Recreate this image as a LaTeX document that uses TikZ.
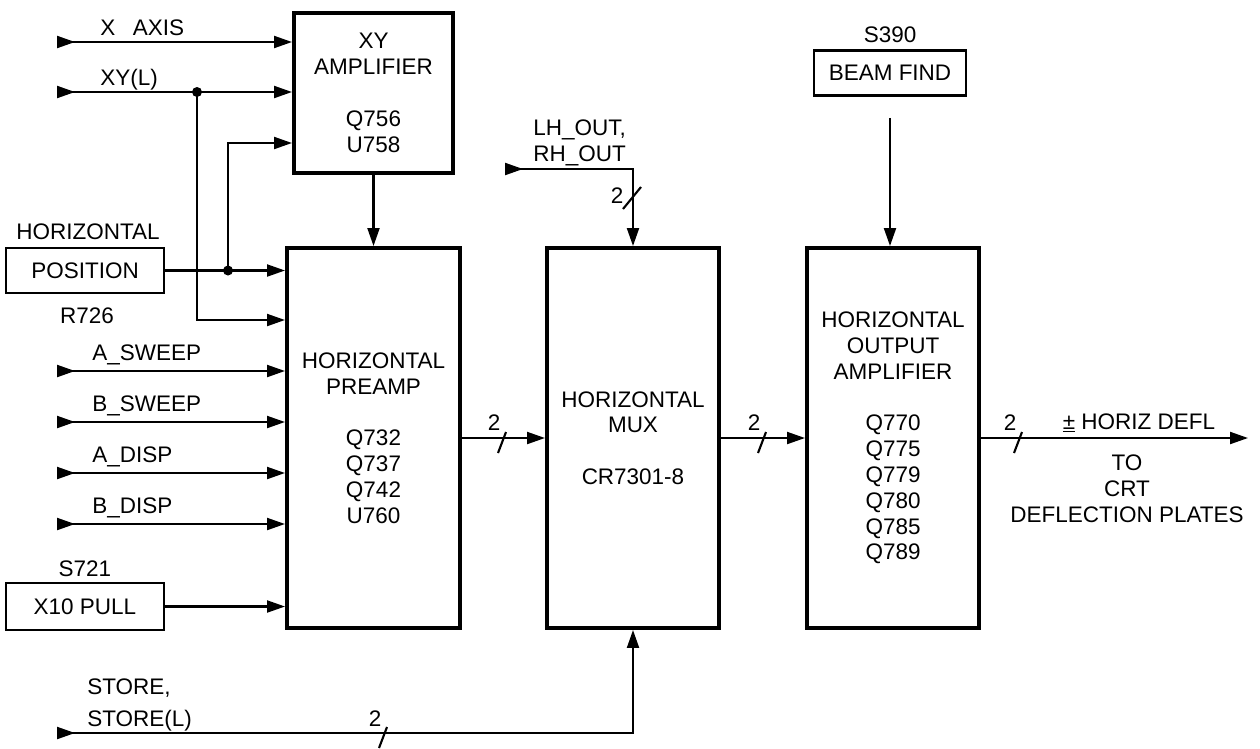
\documentclass[tikz,border=0pt]{standalone}
\usepackage{fontspec}
\setmainfont{Liberation Sans}
\usetikzlibrary{positioning,arrows.meta,calc}
\tikzset{
  sigarrow/.style={-{Triangle[length=3.6mm,width=2.4mm]}, line width=1.2pt},
  inarrow/.style={{Triangle[length=3.6mm,width=2.4mm,reversed]}-{Triangle[length=3.6mm,width=2.4mm]}, line width=1.2pt},
  inline/.style={{Triangle[length=3.6mm,width=2.4mm,reversed]}-, line width=1.2pt},
  blockbox/.style={draw, line width=2.3pt, align=center, inner sep=0pt},
  ctrlbox/.style={draw, line width=1.4pt, align=center, inner sep=0pt, minimum width=3.16cm},
  sigtext/.style={anchor=west, inner sep=0pt},
  plaintext/.style={align=center, inner sep=0pt},
  joindot/.style={circle, fill=black, inner sep=0pt, minimum size=2mm},
  busslash/.style={line width=1.2pt}
}

\begin{document}
\begin{tikzpicture}[x=0.02cm, y=-0.02cm, every node/.style={font=\fontsize{12.8}{14.7}\selectfont}]
  \useasboundingbox (0,0) rectangle (1260,748);

  % main blocks
  \node[blockbox, minimum width=3.18cm, minimum height=3.2cm] (xy) at (373.5,93)
    {XY\\AMPLIFIER\\[14.7pt]Q756\\U758};
  \node[blockbox, minimum width=3.46cm, minimum height=7.6cm] (pre) at (373.5,438)
    {HORIZONTAL\\PREAMP\\[14.7pt]Q732\\Q737\\Q742\\U760};
  \node[blockbox, minimum width=3.44cm, minimum height=7.6cm] (mux) at (633,438)
    {HORIZONTAL\\MUX\\[14.7pt]CR7301-8};
  \node[blockbox, minimum width=3.44cm, minimum height=7.6cm] (out) at (893,438)
    {HORIZONTAL\\OUTPUT\\AMPLIFIER\\[14.7pt]Q770\\Q775\\Q779\\Q780\\Q785\\Q789};

  % controls
  \node[ctrlbox, minimum height=0.9cm] (pos) at (85,270.5) {POSITION};
  \node[plaintext] (posname) at (88,232) {HORIZONTAL};
  \node[plaintext] (posref) at (87,316) {R726};
  \node[ctrlbox, minimum height=0.94cm] (pull) at (85,606.5) {X10 PULL};
  \node[plaintext] (pullref) at (85,569) {S721};
  \node[ctrlbox, minimum width=3.04cm, minimum height=0.9cm] (beam) at (890,73) {BEAM FIND};
  \node[plaintext] (beamref) at (890,35) {S390};

  % XY inputs
  \coordinate (xain) at (57,42);
  \coordinate (xyin) at (57,92);
  \node[joindot] (d1) at (197,92) {};
  \node[joindot] (d2) at (228,270.5) {};
  \coordinate (yq) at (0,143);
  \coordinate (yr) at (0,320);
  \draw[inarrow] (xain) -- (xain -| xy.west);
  \node[sigtext] at (100,28) {X\enspace\ AXIS};
  \draw[inline] (xyin) -- (d1.center);
  \draw[sigarrow] (d1.center) -- (d1 -| xy.west);
  \node[sigtext] at (100,80) {XY(L)};
  \draw[sigarrow] (d1.center) |- (yr -| pre.west);
  \draw[line width=1.2pt] (pos.east) -- (d2.center);
  \draw[sigarrow] (d2.center) -- (d2 -| pre.west);
  \draw[sigarrow] (d2.center) |- (yq -| xy.west);
  \draw[sigarrow] (xy.south) -- (xy.south |- pre.north);

  % sweep and display inputs
  \foreach \sig/\yy in {A\_SWEEP/371, B\_SWEEP/422, A\_DISP/473, B\_DISP/524}{
    \coordinate (sweepin) at (57,\yy);
    \draw[inarrow] (sweepin) -- (sweepin -| pre.west);
    \node[sigtext] at (92,\yy-16) {\sig};
  }
  \draw[sigarrow] (pull.east) -- (pull.east -| pre.west);

  % two-line buses
  \draw[sigarrow] (pre.east |- 0,438) -- (mux.west |- 0,438);
  \draw[busslash] (498,453) -- (506,432);
  \node[plaintext] at (494,423) {2};
  \draw[sigarrow] (mux.east |- 0,438) -- (out.west |- 0,438);
  \coordinate (defl) at (1248,438);
  \draw[busslash] (758,453) -- (766,432);
  \node[plaintext] at (754,423) {2};
  \draw[sigarrow] (out.east |- 0,438) -- (defl);
  \draw[busslash] (1014,453) -- (1022,432);
  \node[plaintext] at (1010,423) {2};
  \node[plaintext] at (1139,423) {\underline{±} HORIZ DEFL};
  \node[plaintext] at (1127,489) {TO\\CRT\\DEFLECTION PLATES};

  % mux controls
  \coordinate (lhin) at (505,169);
  \draw[inarrow] (lhin) -| (mux.north);
  \node[sigtext, align=left] at (533,143) {LH\_OUT,\\RH\_OUT};
  \draw[busslash] (623,209) -- (641,187);
  \node[plaintext] at (617,196) {2};
  \coordinate (stin) at (57,733);
  \draw[inarrow] (stin) -| (mux.south);
  \node[sigtext, align=left] at (87,705) {STORE,\\[3pt]STORE(L)};
  \draw[busslash] (379,748) -- (387,727);
  \node[plaintext] at (375,719) {2};

  % beam find
  \draw[sigarrow, shorten <=12pt] (beam.south) -- (beam.south |- out.north);
\end{tikzpicture}
\end{document}
